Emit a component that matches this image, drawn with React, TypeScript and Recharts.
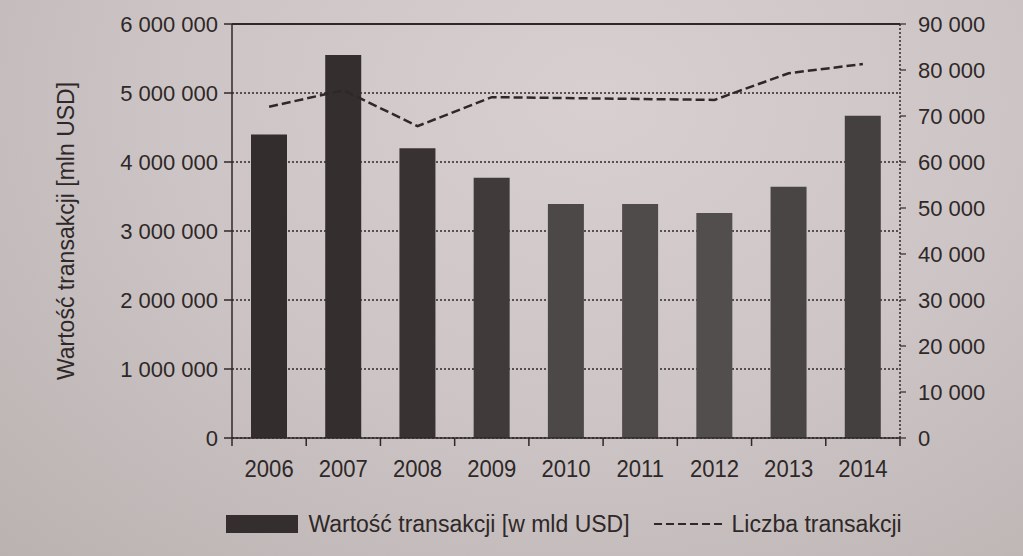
import {
  Bar,
  CartesianGrid,
  Cell,
  ComposedChart,
  Legend,
  Line,
  ReferenceLine,
  XAxis,
  YAxis,
} from "recharts";

const years = ["2006", "2007", "2008", "2009", "2010", "2011", "2012", "2013", "2014"];
const transactionValue = [4400000, 5550000, 4200000, 3770000, 3390000, 3390000, 3260000, 3640000, 4670000];
const transactionCount = [72000, 75600, 67800, 74100, 73900, 73700, 73500, 79300, 81300];
const leftTicks = [0, 1000000, 2000000, 3000000, 4000000, 5000000, 6000000];
const rightTicks = [0, 10000, 20000, 30000, 40000, 50000, 60000, 70000, 80000, 90000];

const data = years.map((year, i) => ({
  year,
  value: transactionValue[i],
  count: transactionCount[i],
}));

const barShades = ["#332d2d", "#342e2e", "#383232", "#403a3a", "#4d4848", "#504b4b", "#534e4e", "#4a4545", "#454040"];

const FONT = '"Liberation Sans", Arial, sans-serif';
const INK = "#2e2828";
const W = 1023;
const H = 556;
const PLOT_LEFT = 232;
const PLOT_RIGHT = 900;
const BAND = (PLOT_RIGHT - PLOT_LEFT) / years.length;

function fmt(v: number) {
  return String(v).replace(/\B(?=(\d{3})+(?!\d))/g, " ");
}

function YearTick(props: any) {
  const { x, y, payload, index } = props;
  return (
    <g>
      {index === 0 && <line x1={x - BAND / 2} y1={y} x2={x - BAND / 2} y2={y + 8} stroke={INK} strokeWidth={1.5} />}
      <line x1={x + BAND / 2} y1={y} x2={x + BAND / 2} y2={y + 8} stroke={INK} strokeWidth={1.5} />
      <text
        x={0}
        y={0}
        transform={`translate(${x},${y + 39}) scale(0.92,1)`}
        textAnchor="middle"
        fill={INK}
        fontSize={24}
        fontFamily={FONT}
      >
        {payload.value}
      </text>
    </g>
  );
}

function ChartLegend() {
  return (
    <div
      style={{
        display: "flex",
        alignItems: "center",
        justifyContent: "center",
        fontFamily: FONT,
        fontSize: 23,
        color: INK,
        height: 56,
        paddingLeft: 105,
      }}
    >
      <span style={{ display: "inline-block", width: 72, height: 18, background: "#342e2e", marginRight: 10 }} />
      <span>Wartość transakcji [w mld USD]</span>
      <svg width={68} height={10} style={{ marginLeft: 24, marginRight: 10 }}>
        <line x1={0} y1={5} x2={68} y2={5} stroke={INK} strokeWidth={2} strokeDasharray="8 4" />
      </svg>
      <span>Liczba transakcji</span>
    </div>
  );
}

export default function App() {
  return (
    <div
      style={{
        position: "absolute",
        left: 0,
        top: 0,
        width: W,
        height: H,
        background: "radial-gradient(ellipse at 58% 18%, #d8d0d0 0%, #cdc5c5 50%, #bab1b1 100%)",
      }}
    >
      <ComposedChart width={W} height={H} data={data} margin={{ top: 24, right: 0, left: 0, bottom: 0 }}>
        <CartesianGrid vertical={false} stroke={INK} strokeDasharray="2 2" strokeWidth={1.5} yAxisId="left" />
        <XAxis
          dataKey="year"
          height={58}
          tick={<YearTick />}
          tickLine={false}
          tickSize={0}
          tickMargin={0}
          axisLine={{ stroke: INK, strokeWidth: 1.5 }}
          interval={0}
        />
        <YAxis
          yAxisId="left"
          width={PLOT_LEFT}
          domain={[0, 6000000]}
          ticks={leftTicks}
          tickFormatter={fmt}
          tick={{ fill: INK, fontSize: 22, fontFamily: FONT }}
          tickSize={8}
          tickMargin={6}
          tickLine={{ stroke: INK, strokeWidth: 1.5 }}
          axisLine={{ stroke: INK, strokeWidth: 1.5 }}
          label={{
            value: "Wartość transakcji [mln USD]",
            angle: -90,
            position: "insideLeft",
            offset: 66,
            style: { textAnchor: "middle", fill: INK, fontSize: 23, fontFamily: FONT },
          }}
        />
        <YAxis
          yAxisId="right"
          orientation="right"
          width={W - PLOT_RIGHT}
          domain={[0, 90000]}
          ticks={rightTicks}
          tickFormatter={fmt}
          tick={{ fill: INK, fontSize: 22, fontFamily: FONT, textAnchor: "start" }}
          tickSize={6}
          tickMargin={12}
          tickLine={{ stroke: INK, strokeWidth: 1.2 }}
          axisLine={{ stroke: INK, strokeWidth: 1.5, strokeDasharray: "2 2" }}
        />
        <ReferenceLine yAxisId="left" y={6000000} stroke={INK} strokeWidth={2} />
        <Legend verticalAlign="bottom" height={60} content={<ChartLegend />} />
        <Bar yAxisId="left" dataKey="value" name="Wartość transakcji [w mld USD]" barSize={36} isAnimationActive={false}>
          {data.map((d, i) => (
            <Cell key={d.year} fill={barShades[i]} />
          ))}
        </Bar>
        <Line
          yAxisId="right"
          dataKey="count"
          name="Liczba transakcji"
          type="linear"
          stroke={INK}
          strokeWidth={2.5}
          strokeDasharray="9 4"
          dot={false}
          isAnimationActive={false}
        />
      </ComposedChart>
    </div>
  );
}
